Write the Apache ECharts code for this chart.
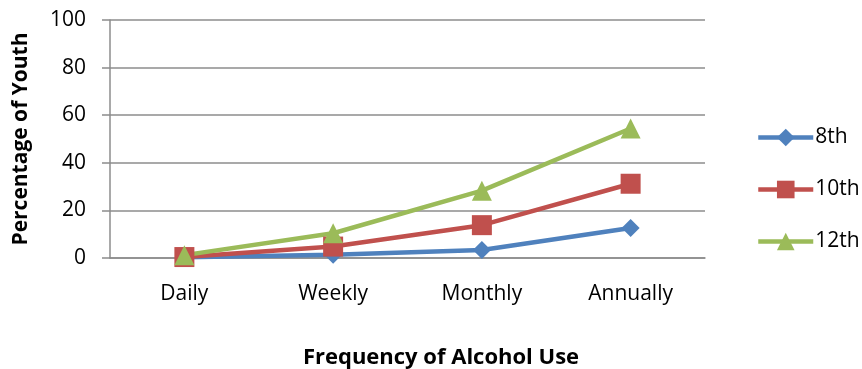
<!DOCTYPE html>
<html>
<head>
<meta charset="utf-8">
<script src="https://cdn.jsdelivr.net/npm/echarts@6/dist/echarts.min.js"></script>
<style>html,body{margin:0;padding:0;background:#fff}#container{width:862px;height:369px}</style>
</head>
<body>
<div id="container"></div>
<script>
var categories = ['Daily', 'Weekly', 'Monthly', 'Annually'];
var grade8 = [0.3, 1.4, 3.4, 12.6];
var grade10 = [0.4, 4.8, 13.8, 31.2];
var grade12 = [1.2, 10.4, 28.3, 54.4];
var yTicks = [0, 20, 40, 60, 80, 100];

var dom = document.getElementById('container');
var myChart = echarts.init(dom);
var font = 'Open Sans';

function mkSeries(name, data, color, symbol, size) {
    return {
        name: name,
        type: 'line',
        data: data,
        symbol: symbol,
        symbolSize: size,
        lineStyle: { color: color, width: 4.5 },
        itemStyle: { color: color },
        emphasis: { disabled: true }
    };
}

var option = {
    animation: false,
    textStyle: { fontFamily: font },
    grid: { left: 110, right: 157, top: 20, bottom: 111 },
    title: {
        text: 'Frequency of Alcohol Use',
        left: 436, top: 342,
        textAlign: 'center',
        textStyle: { fontFamily: font, fontSize: 22, fontWeight: 'bold', color: '#000' }
    },
    legend: {
        orient: 'vertical',
        left: 751, top: 122,
        itemWidth: 55, itemHeight: 22,
        itemGap: 31,
        lineStyle: { width: 4.5 },
        textStyle: { fontFamily: font, fontSize: 21, color: '#000', padding: [0, 0, 0, -3] },
        data: ['8th', '10th', '12th']
    },
    xAxis: {
        type: 'category',
        data: categories,
        boundaryGap: true,
        axisLine: { lineStyle: { color: '#8c8c8c', width: 1.5 } },
        axisTick: { show: false },
        axisLabel: { fontSize: 21, color: '#000', margin: 26, fontFamily: font }
    },
    yAxis: {
        type: 'value',
        min: yTicks[0], max: yTicks[yTicks.length - 1], interval: 20,
        name: 'Percentage of Youth',
        nameLocation: 'middle',
        nameGap: 78,
        nameTextStyle: { fontSize: 21, fontWeight: 'bold', color: '#000', fontFamily: font },
        axisLine: { show: true, lineStyle: { color: '#8c8c8c', width: 1.5 } },
        axisTick: { show: true, length: 8, lineStyle: { color: '#8c8c8c', width: 1.5 } },
        axisLabel: { fontSize: 21, color: '#000', margin: 24, fontFamily: font },
        splitLine: { lineStyle: { color: '#8c8c8c', width: 1.5 } }
    },
    series: [
        mkSeries('8th', grade8, '#4F81BD', 'diamond', 18),
        mkSeries('10th', grade10, '#C0504D', 'rect', 20),
        mkSeries('12th', grade12, '#9BBB59', 'triangle', 20)
    ]
};
myChart.setOption(option);
</script>
</body>
</html>
